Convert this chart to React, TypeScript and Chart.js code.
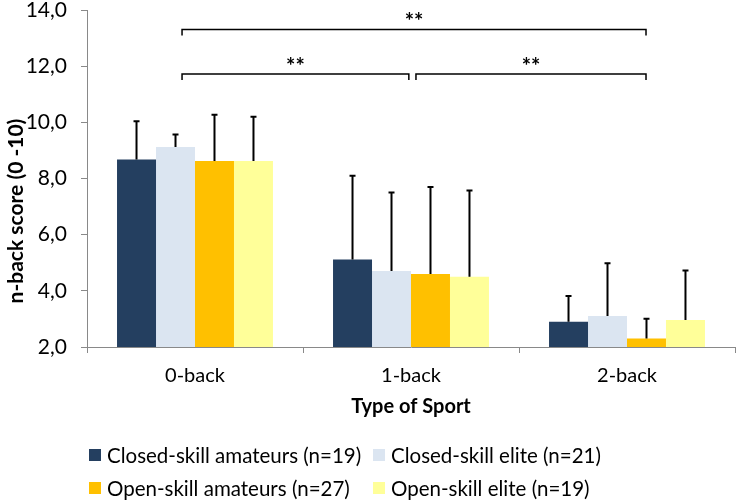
import React, { useEffect, useRef } from 'react';
import { Chart, registerables } from 'chart.js';

Chart.register(...registerables);

const categories = ['0-back', '1-back', '2-back'];
const seriesLabels = [
  'Closed-skill amateurs (n=19)',
  'Closed-skill elite (n=21)',
  'Open-skill amateurs (n=27)',
  'Open-skill elite (n=19)',
];
const closedAmateurs = [8.68, 5.12, 2.9];
const closedElite = [9.12, 4.71, 3.1];
const openAmateurs = [8.62, 4.6, 2.3];
const openElite = [8.62, 4.5, 2.96];
const closedAmateursErr = [1.36, 2.98, 0.92];
const closedEliteErr = [0.45, 2.79, 1.88];
const openAmateursErr = [1.65, 3.1, 0.71];
const openEliteErr = [1.58, 3.07, 1.76];
const seriesColors = ['#243F60', '#DBE5F1', '#FFC000', '#FFFF99'];
const yMin = 2;
const yMax = 14;
const yStep = 2;
const xTitle = 'Type of Sport';
const yTitle = 'n-back score (0 -10)';
// significance brackets: from/to in category index units, y in data units
const bracketFrom = [-0.06, -0.06, 1.023];
const bracketTo = [2.088, 0.99, 2.088];
const bracketY = [13.31, 11.72, 11.72];
const bracketLabel = ['**', '**', '**'];

const FONT = 'Lato, "Open Sans", sans-serif';

const overlayPlugin = {
  id: 'overlay',
  afterDatasetsDraw(chart: any) {
    const ctx = chart.ctx;
    const yScale = chart.scales.y;
    ctx.save();
    ctx.strokeStyle = '#000';
    ctx.lineWidth = 2;
    chart.data.datasets.forEach((ds: any, d: number) => {
      const meta = chart.getDatasetMeta(d);
      meta.data.forEach((bar: any, i: number) => {
        const v = ds.data[i];
        const e = ds.errors[i];
        const yTop = yScale.getPixelForValue(v + e);
        ctx.beginPath();
        ctx.moveTo(bar.x, bar.y);
        ctx.lineTo(bar.x, yTop);
        ctx.moveTo(bar.x - 3, yTop);
        ctx.lineTo(bar.x + 3, yTop);
        ctx.stroke();
      });
    });
    ctx.restore();
  },
  afterDraw(chart: any) {
    const ctx = chart.ctx;
    const xScale = chart.scales.x;
    const yScale = chart.scales.y;
    ctx.save();
    // brackets
    ctx.strokeStyle = '#000';
    ctx.lineWidth = 1.5;
    ctx.fillStyle = '#000';
    ctx.font = 'bold 22px ' + FONT;
    ctx.textAlign = 'center';
    ctx.textBaseline = 'middle';
    for (let i = 0; i < bracketFrom.length; i++) {
      const x1 = xScale.getPixelForValue(bracketFrom[i]);
      const x2 = xScale.getPixelForValue(bracketTo[i]);
      const y = yScale.getPixelForValue(bracketY[i]);
      ctx.beginPath();
      ctx.moveTo(x1, y + 6);
      ctx.lineTo(x1, y);
      ctx.lineTo(x2, y);
      ctx.lineTo(x2, y + 6);
      ctx.stroke();
      ctx.fillText(bracketLabel[i], (x1 + x2) / 2, y - 7);
    }
    // y title
    ctx.save();
    ctx.translate(16, 211);
    ctx.rotate(-Math.PI / 2);
    ctx.font = 'bold 21px ' + FONT;
    ctx.fillText(yTitle, 0, 0);
    ctx.restore();
    // legend
    const colX = [89, 373];
    const rowY = [455, 488];
    ctx.font = '20.5px ' + FONT;
    ctx.textAlign = 'left';
    chart.data.datasets.forEach((ds: any, d: number) => {
      const cx = colX[d % 2];
      const cy = rowY[Math.floor(d / 2)];
      ctx.fillStyle = ds.backgroundColor;
      ctx.fillRect(cx, cy - 6, 12, 12);
      ctx.fillStyle = '#000';
      ctx.fillText(ds.label, cx + 18, cy + 1);
    });
    ctx.restore();
  },
};

export default function App() {
  const ref = useRef<HTMLCanvasElement | null>(null);
  useEffect(() => {
    if (!ref.current) return;
    Chart.defaults.font.family = FONT;
    Chart.defaults.color = '#000';
    const values = [closedAmateurs, closedElite, openAmateurs, openElite];
    const errs = [closedAmateursErr, closedEliteErr, openAmateursErr, openEliteErr];
    const chart = new Chart(ref.current, {
      type: 'bar',
      data: {
        labels: categories,
        datasets: values.map((v, i) => ({
          label: seriesLabels[i],
          data: v,
          errors: errs[i],
          backgroundColor: seriesColors[i],
          borderWidth: 0,
          categoryPercentage: 0.722,
          barPercentage: 1,
        })) as any,
      },
      options: {
        animation: false,
        responsive: false,
        layout: { padding: { left: 0, right: 3, top: 0, bottom: 79 } },
        plugins: {
          legend: { display: false },
          tooltip: { enabled: false },
        },
        scales: {
          x: {
            grid: {
              offset: true,
              drawOnChartArea: false,
              drawTicks: true,
              tickLength: 6,
              color: '#898989',
            },
            border: { display: true, color: '#898989' },
            ticks: { font: { size: 20 }, padding: 11, color: '#000' },
            title: {
              display: true,
              text: xTitle,
              font: { size: 20, weight: 'bold' },
              color: '#000',
              padding: { top: 8, bottom: 4 },
            },
            afterFit: (s: any) => {
              s.height = 76;
            },
          },
          y: {
            min: yMin,
            max: yMax,
            grid: {
              drawOnChartArea: false,
              drawTicks: true,
              tickLength: 6,
              color: '#898989',
            },
            border: { display: true, color: '#898989' },
            ticks: {
              stepSize: yStep,
              padding: 14,
              color: '#000',
              font: { size: 21, lineHeight: 1.0 },
              callback: (v: any) => Number(v).toFixed(1).replace('.', ','),
            },
            afterFit: (s: any) => {
              s.width = 87;
              s.paddingTop = 10;
              s.paddingBottom = 10;
            },
          },
        },
      },
      plugins: [overlayPlugin],
    });
    return () => chart.destroy();
  }, []);
  return (
    <div style={{ position: 'absolute', left: 0, top: 0, width: 738, height: 502, background: '#fff' }}>
      <canvas ref={ref} width={738} height={502} style={{ display: 'block' }} />
    </div>
  );
}
